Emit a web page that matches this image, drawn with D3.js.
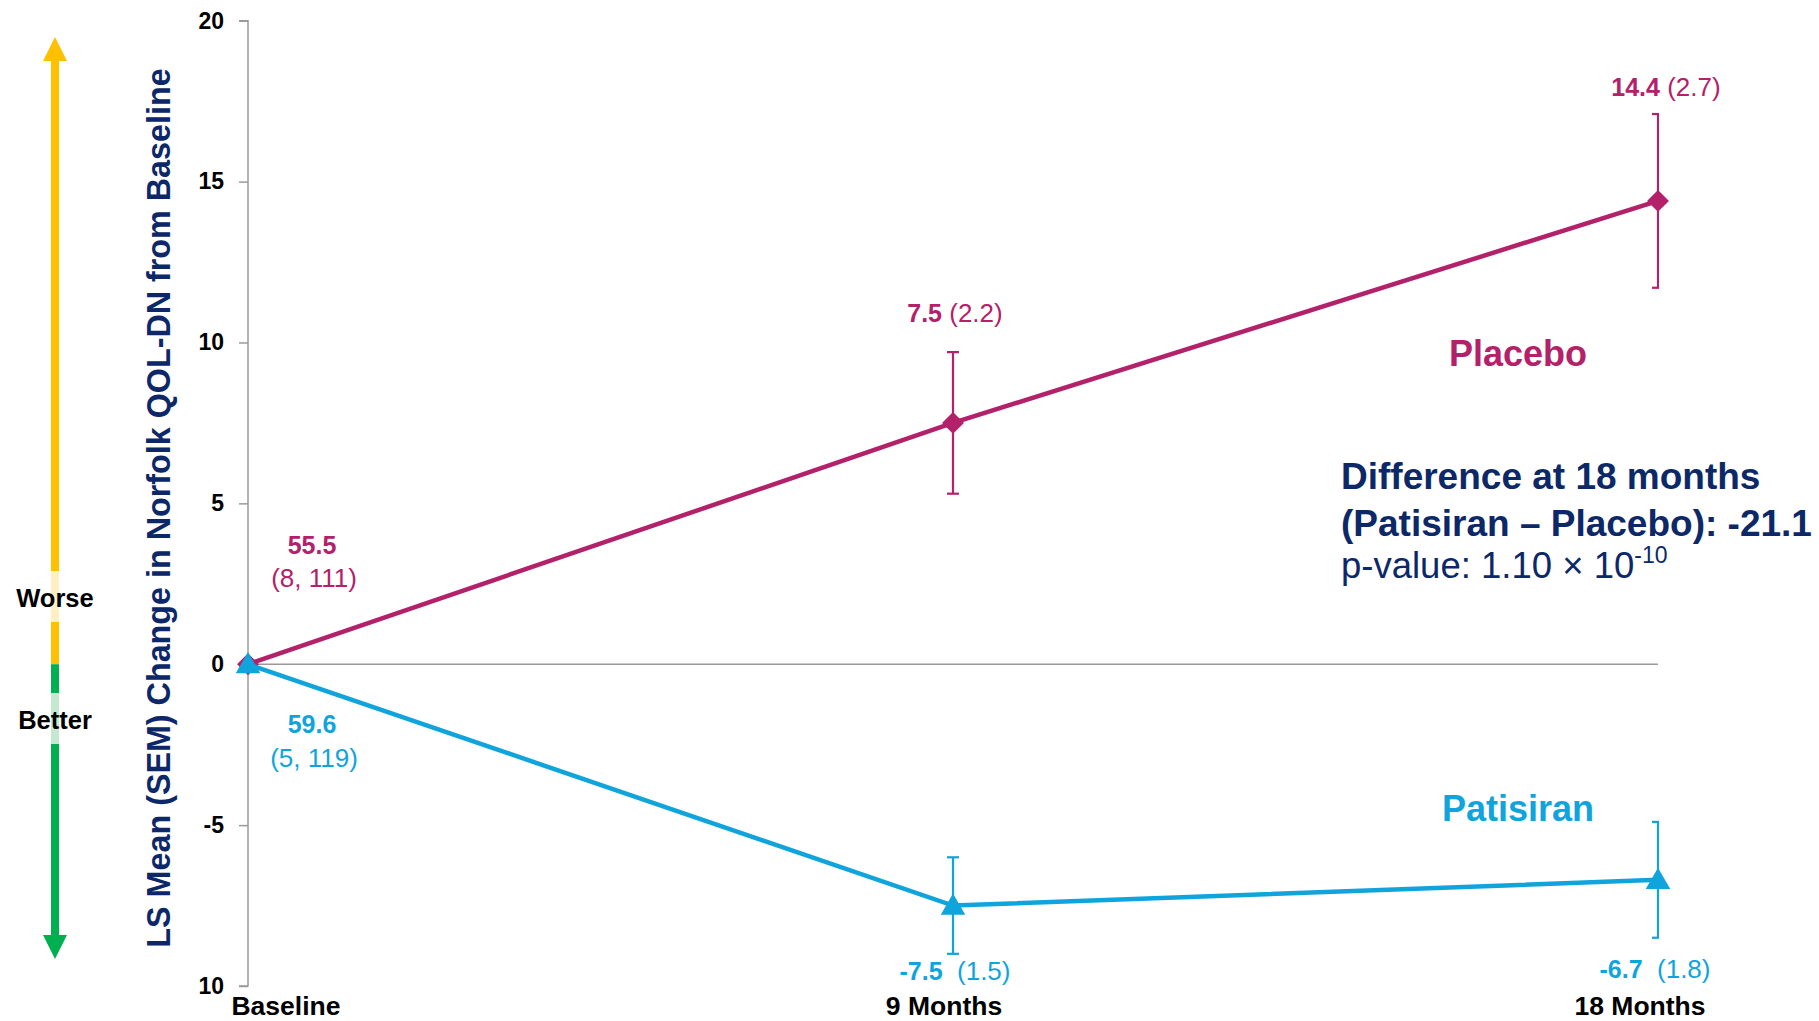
<!DOCTYPE html>
<html>
<head>
<meta charset="utf-8">
<script src="https://cdn.jsdelivr.net/npm/d3@7"></script>
<style>
  html, body { margin: 0; padding: 0; background: #fff; }
  svg { display: block; font-family: "Liberation Sans", Arial, Helvetica, sans-serif; }
</style>
</head>
<body>
<svg id="chart" width="1819" height="1021"></svg>
<script>
// Time points and LS mean change (SEM) in Norfolk QOL-DN
const categories = ["Baseline", "9 Months", "18 Months"];
const placeboMean = [0, 7.5, 14.4];
const placeboSEM = [null, 2.2, 2.7];
const patisiranMean = [0, -7.5, -6.7];
const patisiranSEM = [null, 1.5, 1.8];
const placeboBaseline = ["55.5", "(8, 111)"];
const patisiranBaseline = ["59.6", "(5, 119)"];
const yTickValues = [20, 15, 10, 5, 0, -5, -10];
const yTickLabels = ["20", "15", "10", "5", "0", "-5", "10"];

const PLACEBO = "#B3216A";
const PATISIRAN = "#10A4DD";
const NAVY = "#0C2868";
const AXIS = "#9a9a9a";

// one-decimal format with a plain hyphen for negatives
const fmt = d3.formatLocale({ decimal: ".", thousands: ",", grouping: [3], currency: ["", ""], minus: "-" }).format(".1f");

const svg = d3.select("#chart");

const x = d3.scalePoint().domain(categories).range([248, 1658]);
const y = d3.scaleLinear().domain([-10, 20]).range([986, 20.7]);

// ---- Worse / Better arrow on the far left ----
const arrow = svg.append("g");
const ax = 55;
arrow.append("rect").attr("x", ax - 4).attr("y", 58).attr("width", 8).attr("height", y(0) - 58).attr("fill", "#FFC000");
arrow.append("path").attr("d", `M${ax},37 L${ax - 12},61 L${ax + 12},61 Z`).attr("fill", "#FFC000");
arrow.append("rect").attr("x", ax - 4).attr("y", y(0)).attr("width", 8).attr("height", 937 - y(0)).attr("fill", "#00B050");
arrow.append("path").attr("d", `M${ax},959 L${ax - 12},935 L${ax + 12},935 Z`).attr("fill", "#00B050");
arrow.append("rect").attr("x", ax - 4).attr("y", 571).attr("width", 8).attr("height", 51).attr("fill", "#FFF0C4");
arrow.append("rect").attr("x", ax - 4).attr("y", 693).attr("width", 8).attr("height", 51).attr("fill", "#C4E9D0");
arrow.append("text").attr("x", ax).attr("y", 607).attr("text-anchor", "middle")
  .attr("font-size", 25.5).attr("font-weight", "bold").attr("fill", "#000").text("Worse");
arrow.append("text").attr("x", ax).attr("y", 729).attr("text-anchor", "middle")
  .attr("font-size", 25.5).attr("font-weight", "bold").attr("fill", "#000").text("Better");

// ---- Y axis ----
const yAxis = d3.axisLeft(y)
  .tickValues(yTickValues)
  .tickSize(9)
  .tickPadding(15)
  .tickFormat((d, i) => yTickLabels[i]);

const yG = svg.append("g").attr("transform", `translate(${x(categories[0])},0)`).call(yAxis);
yG.select(".domain").attr("stroke", AXIS).attr("stroke-width", 1.5).attr("d", `M-9,${y(20)}H0V${y(-10)}H-9`);
yG.selectAll(".tick line").attr("stroke", AXIS).attr("stroke-width", 1.5);
yG.selectAll(".tick text")
  .attr("font-size", 23).attr("font-weight", "bold").attr("fill", "#000")
  .attr("font-family", "\"Liberation Sans\", Arial, sans-serif");

// Y axis title
svg.append("text")
  .attr("transform", `translate(170, 508) rotate(-90)`)
  .attr("text-anchor", "middle")
  .attr("font-size", 32.3).attr("font-weight", "bold").attr("fill", NAVY)
  .text("LS Mean (SEM) Change in Norfolk QOL-DN from Baseline");

// Zero reference line
svg.append("line")
  .attr("x1", x(categories[0])).attr("x2", x(categories[2]))
  .attr("y1", y(0)).attr("y2", y(0))
  .attr("stroke", AXIS).attr("stroke-width", 1.5);

// Category labels
const xLabelShift = [38, -9, -18];
svg.append("g").selectAll("text").data(categories).join("text")
  .attr("x", (d, i) => x(d) + xLabelShift[i])
  .attr("y", 1015)
  .attr("text-anchor", "middle")
  .attr("font-size", 26.5).attr("font-weight", "bold").attr("fill", "#000")
  .text(d => d);

// ---- Series ----
function rows(means, sems) {
  return categories.map((c, i) => ({ cat: c, v: means[i], sem: sems[i] }));
}
const placebo = rows(placeboMean, placeboSEM);
const patisiran = rows(patisiranMean, patisiranSEM);

svg.append("defs").append("clipPath").attr("id", "plotClip")
  .append("rect").attr("x", 0).attr("y", 0).attr("width", x(categories[2]) + 1).attr("height", 1021);

const line = d3.line().x(d => x(d.cat)).y(d => y(d.v));

function drawErrorBars(data, color) {
  const g = svg.append("g").attr("clip-path", "url(#plotClip)")
    .attr("stroke", color).attr("stroke-width", 2.2).attr("fill", "none");
  const withErr = data.filter(d => d.sem != null);
  g.selectAll("line.v").data(withErr).join("line").attr("class", "v")
    .attr("x1", d => x(d.cat)).attr("x2", d => x(d.cat))
    .attr("y1", d => y(d.v + d.sem)).attr("y2", d => y(d.v - d.sem));
  g.selectAll("line.t").data(withErr).join("line").attr("class", "t")
    .attr("x1", d => x(d.cat) - 6).attr("x2", d => x(d.cat) + 6)
    .attr("y1", d => y(d.v + d.sem)).attr("y2", d => y(d.v + d.sem));
  g.selectAll("line.b").data(withErr).join("line").attr("class", "b")
    .attr("x1", d => x(d.cat) - 6).attr("x2", d => x(d.cat) + 6)
    .attr("y1", d => y(d.v - d.sem)).attr("y2", d => y(d.v - d.sem));
}

// Placebo
drawErrorBars(placebo, PLACEBO);
svg.append("path").datum(placebo).attr("d", line)
  .attr("fill", "none").attr("stroke", PLACEBO).attr("stroke-width", 4.5);
svg.append("g").selectAll("path").data(placebo).join("path")
  .attr("d", d3.symbol().type(d3.symbolSquare).size(240))
  .attr("transform", d => `translate(${x(d.cat)},${y(d.v)}) rotate(45)`)
  .attr("fill", PLACEBO);

// Patisiran
drawErrorBars(patisiran, PATISIRAN);
svg.append("path").datum(patisiran).attr("d", line)
  .attr("fill", "none").attr("stroke", PATISIRAN).attr("stroke-width", 4.5);
svg.append("g").selectAll("path").data(patisiran).join("path")
  .attr("d", d3.symbol().type(d3.symbolTriangle).size(260))
  .attr("transform", d => `translate(${x(d.cat)},${y(d.v) + 2})`)
  .attr("fill", PATISIRAN);

// ---- Value labels ----
function valueLabel(d, color, cx, by, gap) {
  const t = svg.append("text").attr("x", cx).attr("y", by)
    .attr("text-anchor", "middle").attr("font-size", 25).attr("fill", color);
  t.append("tspan").attr("font-weight", "bold").text(fmt(d.v));
  t.append("tspan").attr("font-size", 26).text(gap + "(" + fmt(d.sem) + ")");
}
valueLabel(placebo[1], PLACEBO, x(categories[1]) + 2, 322, " ");
valueLabel(placebo[2], PLACEBO, x(categories[2]) + 8, 96, " ");
valueLabel(patisiran[1], PATISIRAN, x(categories[1]) + 2, 980, "\u00a0\u00a0");
valueLabel(patisiran[2], PATISIRAN, x(categories[2]) - 3, 978, "\u00a0\u00a0");

// Baseline values
svg.append("text").attr("x", 312).attr("y", 554).attr("text-anchor", "middle")
  .attr("font-size", 25).attr("font-weight", "bold").attr("fill", PLACEBO).text(placeboBaseline[0]);
svg.append("text").attr("x", 314).attr("y", 587).attr("text-anchor", "middle")
  .attr("font-size", 26).attr("fill", PLACEBO).text(placeboBaseline[1]);
svg.append("text").attr("x", 312).attr("y", 733).attr("text-anchor", "middle")
  .attr("font-size", 25).attr("font-weight", "bold").attr("fill", PATISIRAN).text(patisiranBaseline[0]);
svg.append("text").attr("x", 314).attr("y", 767).attr("text-anchor", "middle")
  .attr("font-size", 26).attr("fill", PATISIRAN).text(patisiranBaseline[1]);

// Series names
svg.append("text").attr("x", 1449).attr("y", 366)
  .attr("font-size", 36).attr("font-weight", "bold").attr("fill", PLACEBO).text("Placebo");
svg.append("text").attr("x", 1442).attr("y", 821)
  .attr("font-size", 36).attr("font-weight", "bold").attr("fill", PATISIRAN).text("Patisiran");

// Treatment difference note
const note = svg.append("g").attr("fill", NAVY);
note.append("text").attr("x", 1341).attr("y", 489)
  .attr("font-size", 37).attr("font-weight", "bold").text("Difference at 18 months");
note.append("text").attr("x", 1341).attr("y", 536)
  .attr("font-size", 37).attr("font-weight", "bold").text("(Patisiran \u2013 Placebo): -21.1");
const pv = note.append("text").attr("x", 1341).attr("y", 578).attr("font-size", 36.5);
pv.append("tspan").text("p-value: 1.10 \u00d7 10");
pv.append("tspan").attr("font-size", 23).attr("dy", -15).text("-10");
</script>
</body>
</html>
